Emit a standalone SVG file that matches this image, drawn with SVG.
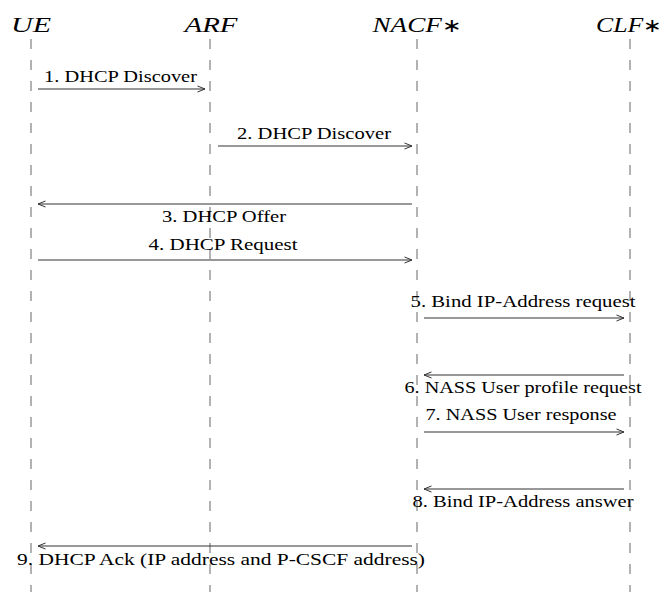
<svg xmlns="http://www.w3.org/2000/svg" width="662" height="592" viewBox="0 0 662 592">
<defs>
<marker id="ah" markerWidth="10" markerHeight="8" refX="8" refY="4" orient="auto" markerUnits="userSpaceOnUse">
<path d="M0.5,1 L8,4 L0.5,7" fill="none" stroke="#333" stroke-width="1"/>
</marker>
<style>
.title{font-family:"Liberation Serif",serif;font-style:italic;font-size:22px;fill:#000;text-anchor:middle}
.ast{font-style:normal;font-weight:normal;font-size:19px}
.lbl{font-family:"Liberation Serif",serif;font-size:17px;fill:#000;text-anchor:middle}
.life{stroke:#666;stroke-width:1;stroke-dasharray:10 11;fill:none}
.msg{stroke:#333;stroke-width:1.1;fill:none;marker-end:url(#ah)}
</style>
</defs>
<rect width="662" height="592" fill="#fff"/>
<g id="UE"><text class="title" x="31" y="32" textLength="40" lengthAdjust="spacingAndGlyphs">UE</text><line class="life" x1="31" y1="39" x2="31" y2="592"/></g>
<g id="ARF"><text class="title" x="211" y="32" textLength="53" lengthAdjust="spacingAndGlyphs">ARF</text><line class="life" x1="210" y1="39" x2="210" y2="592"/></g>
<g id="NACF"><text class="title" x="417" y="32" textLength="89" lengthAdjust="spacingAndGlyphs">NACF<tspan class="ast">∗</tspan></text><line class="life" x1="417" y1="39" x2="417" y2="592"/></g>
<g id="CLF"><text class="title" x="629" y="32" textLength="66" lengthAdjust="spacingAndGlyphs">CLF<tspan class="ast">∗</tspan></text><line class="life" x1="630" y1="39" x2="630" y2="592"/></g>
<g id="connectors">
<line class="msg" x1="38" y1="89" x2="205" y2="89"/>
<line class="msg" x1="218" y1="146" x2="412" y2="146"/>
<line class="msg" x1="412" y1="204" x2="38" y2="204"/>
<line class="msg" x1="38" y1="260" x2="412" y2="260"/>
<line class="msg" x1="424" y1="318" x2="624" y2="318"/>
<line class="msg" x1="624" y1="375" x2="424" y2="375"/>
<line class="msg" x1="424" y1="432" x2="624" y2="432"/>
<line class="msg" x1="624" y1="489" x2="424" y2="489"/>
<line class="msg" x1="412" y1="546" x2="38" y2="546"/>
</g>
<g id="labels">
<text class="lbl" x="120.5" y="82" textLength="153" lengthAdjust="spacingAndGlyphs">1. DHCP Discover</text>
<text class="lbl" x="314" y="139" textLength="154" lengthAdjust="spacingAndGlyphs">2. DHCP Discover</text>
<text class="lbl" x="224" y="222" textLength="124" lengthAdjust="spacingAndGlyphs">3. DHCP Offer</text>
<text class="lbl" x="223" y="250" textLength="149" lengthAdjust="spacingAndGlyphs">4. DHCP Request</text>
<text class="lbl" x="523" y="307" textLength="225" lengthAdjust="spacingAndGlyphs">5. Bind IP-Address request</text>
<text class="lbl" x="523" y="393" textLength="237" lengthAdjust="spacingAndGlyphs">6. NASS User profile request</text>
<text class="lbl" x="521" y="420" textLength="191" lengthAdjust="spacingAndGlyphs">7. NASS User response</text>
<text class="lbl" x="523" y="507" textLength="221" lengthAdjust="spacingAndGlyphs">8. Bind IP-Address answer</text>
<text class="lbl" x="221" y="565" textLength="408" lengthAdjust="spacingAndGlyphs">9. DHCP Ack (IP address and P-CSCF address)</text>
</g>
</svg>
